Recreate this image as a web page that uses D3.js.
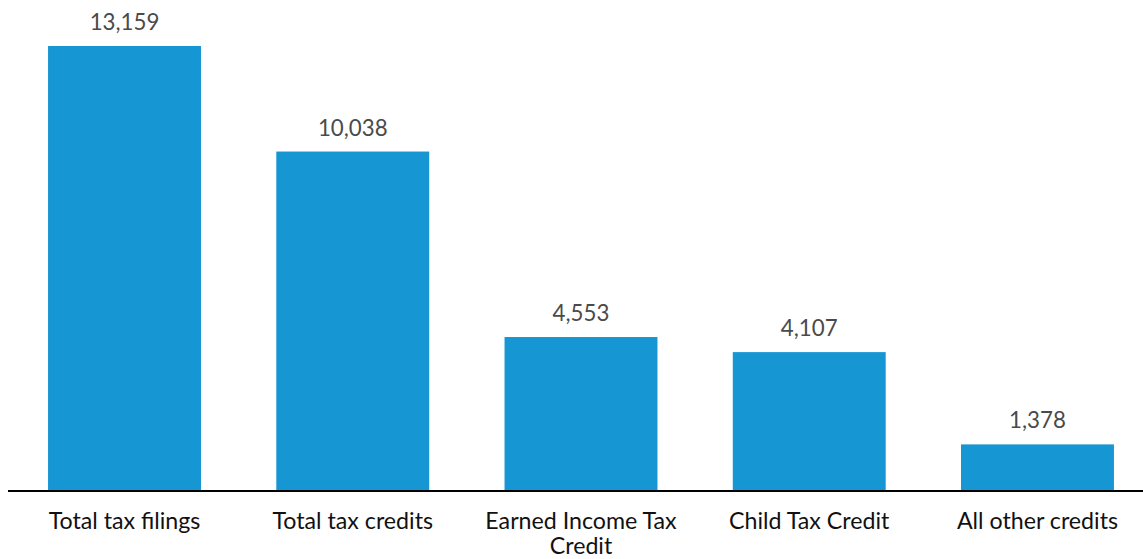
<!DOCTYPE html>
<html>
<head>
<meta charset="utf-8">
<script src="https://cdn.jsdelivr.net/npm/d3@7"></script>
<style>
  body { margin: 0; background: #fff; }
  svg { display: block; font-family: Lato, "Open Sans", sans-serif; }
</style>
</head>
<body>
<svg id="chart" width="1143" height="559"></svg>
<script>
// data
var categories = [["Total tax filings"], ["Total tax credits"], ["Earned Income Tax", "Credit"], ["Child Tax Credit"], ["All other credits"]];
var values = [13159, 10038, 4553, 4107, 1378];

var svg = d3.select("#chart");
var baseY = 491;

var x = d3.scaleBand()
  .domain(d3.range(values.length))
  .range([10.4, 1151.6])
  .paddingInner(0.33)
  .paddingOuter(0.165);

var y = d3.scaleLinear()
  .domain([0, 13159])
  .range([baseY, 46]);

svg.selectAll("rect.bar")
  .data(values)
  .enter().append("rect")
  .attr("class", "bar")
  .attr("x", function(d, i) { return x(i); })
  .attr("y", function(d) { return y(d); })
  .attr("width", x.bandwidth())
  .attr("height", function(d) { return baseY - y(d); })
  .style("fill", "#1696d2");

// value labels
svg.selectAll("text.val")
  .data(values)
  .enter().append("text")
  .attr("class", "val")
  .attr("x", function(d, i) { return x(i) + x.bandwidth() / 2; })
  .attr("y", function(d) { return y(d) - 16; })
  .attr("text-anchor", "middle")
  .style("font-size", "22.3px")
  .style("fill", "#4a4a4a")
  .text(function(d) { return d3.format(",")(d); });

// baseline
svg.append("line")
  .attr("x1", 8).attr("x2", 1143)
  .attr("y1", baseY).attr("y2", baseY)
  .style("stroke", "#000")
  .style("stroke-width", 2);

// category labels, wrapped by hand like the original
var cat = svg.selectAll("text.cat")
  .data(categories)
  .enter().append("text")
  .attr("class", "cat")
  .attr("x", function(d, i) { return x(i) + x.bandwidth() / 2; })
  .attr("y", 528.5)
  .attr("text-anchor", "middle")
  .style("font-size", "23.2px")
  .style("fill", "#111");

cat.selectAll("tspan")
  .data(function(d) { return d; })
  .enter().append("tspan")
  .attr("x", function() { return d3.select(this.parentNode).attr("x"); })
  .attr("dy", function(d, i) { return i ? 25 : 0; })
  .text(function(d) { return d; });
</script>
</body>
</html>
